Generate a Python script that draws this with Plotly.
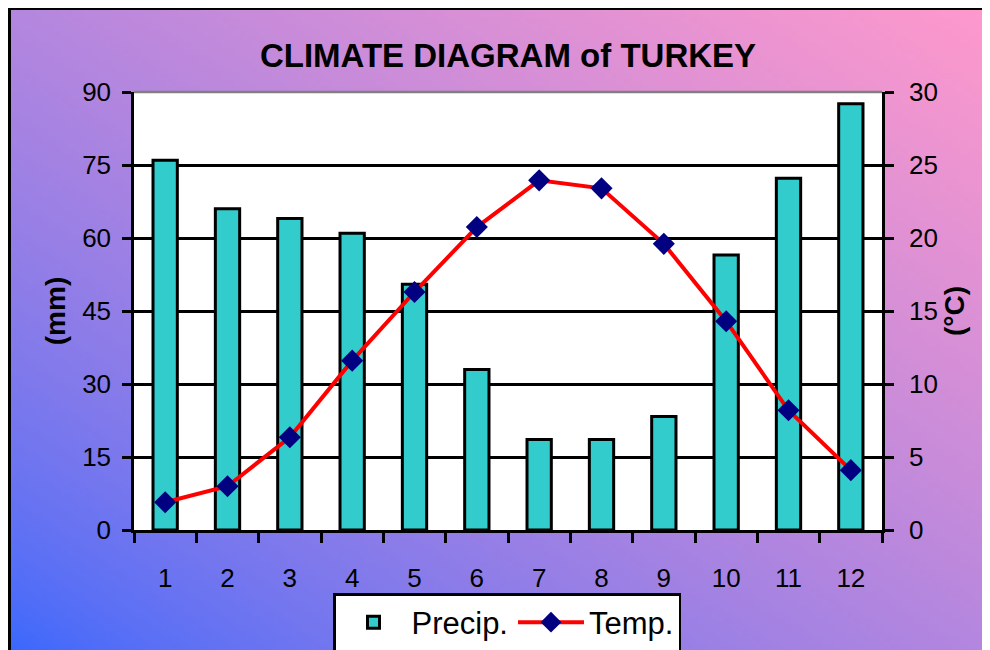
import base64
import struct
import zlib
import plotly.graph_objects as go

# ---- data ----
months = ["1", "2", "3", "4", "5", "6", "7", "8", "9", "10", "11", "12"]
precip_mm = [76, 66, 64, 61, 50.5, 33, 18.6, 18.6, 23.3, 56.5, 72.3, 87.6]
temp_c = [1.9, 3.0, 6.35, 11.6, 16.3, 20.75, 23.95, 23.4, 19.6, 14.3, 8.2, 4.1]
left_ticks = [0, 15, 30, 45, 60, 75, 90]
right_ticks = [0, 5, 10, 15, 20, 25, 30]

FONT = "Arial, Liberation Sans, sans-serif"
W, H = 990, 650
OFF = 8  # page body margin: figure origin sits at (8, 8) in the window
L, R, T, B = 134 - OFF, 882 - OFF, 92 - OFF, 530 - OFF   # plot area (figure px)
PW, PH = R - L, B - T


def px_x(p):
    """window x pixel -> paper x"""
    return (p - OFF - L) / PW


def px_y(p):
    """window y pixel -> paper y"""
    return (B - (p - OFF)) / PH


def gradient_png(w, h, c0, c1, gamma):
    rows = []
    for j in range(h):
        row = bytearray([0])
        for i in range(w):
            s = (i / (w - 1) + (1 - j / (h - 1))) / 2
            t = s ** gamma
            for k in range(3):
                row.append(int(round(c0[k] + (c1[k] - c0[k]) * t)))
        rows.append(bytes(row))
    raw = b"".join(rows)

    def chunk(tag, data):
        return (struct.pack(">I", len(data)) + tag + data
                + struct.pack(">I", zlib.crc32(tag + data) & 0xffffffff))

    png = (b"\x89PNG\r\n\x1a\n"
           + chunk(b"IHDR", struct.pack(">IIBBBBB", w, h, 8, 2, 0, 0, 0))
           + chunk(b"IDAT", zlib.compress(raw))
           + chunk(b"IEND", b""))
    return "data:image/png;base64," + base64.b64encode(png).decode()


bg = gradient_png(160, 105, (51, 102, 255), (255, 153, 204), 0.66)

fig = go.Figure()
fig.add_trace(go.Bar(
    x=months, y=precip_mm, name="Precip.", width=0.39,
    marker=dict(color="#33CCCC", line=dict(color="black", width=3)),
    yaxis="y",
))
fig.add_trace(go.Scatter(
    x=months, y=temp_c, name="Temp.", mode="lines+markers",
    line=dict(color="#FF0000", width=4),
    marker=dict(symbol="diamond", size=17, color="#000080"),
    yaxis="y2",
))

fig.update_layout(
    width=W, height=H,
    margin=dict(l=L, r=W - R, t=T, b=H - B, autoexpand=False),
    paper_bgcolor="white",
    plot_bgcolor="white",
    font=dict(family=FONT, color="black", size=26),
    title=dict(text="<b>CLIMATE DIAGRAM of TURKEY</b>", x=(508 - OFF) / W,
               xanchor="center", y=1 - (55 - OFF) / H, yanchor="middle",
               yref="container", automargin=False,
               font=dict(size=33, family=FONT, color="black")),
    xaxis=dict(type="category", range=[-0.5, len(months) - 0.5],
               tickson="boundaries", ticks="outside", ticklen=10,
               tickwidth=2.5, tickcolor="black", showline=True, linecolor="black",
               linewidth=3, showgrid=False, ticklabelstandoff=23, automargin=False,
               tickfont=dict(size=26)),
    xaxis2=dict(type="category", overlaying="x", side="bottom", matches="x",
                tickson="boundaries", ticks="inside", ticklen=8, tickwidth=2.5,
                tickcolor="black", showticklabels=False, showgrid=False,
                showline=False, automargin=False),
    yaxis=dict(range=[0, 90], tickvals=left_ticks, ticks="outside", ticklen=9,
               tickwidth=2.5, tickcolor="black", showline=True, linecolor="black",
               linewidth=2.5, showgrid=True, gridcolor="black", gridwidth=2.5,
               zeroline=False, ticklabelstandoff=6, automargin=False,
               title=dict(text="<b>(mm)</b>", standoff=9, font=dict(size=28))),
    yaxis2=dict(range=[0, 30], tickvals=right_ticks, overlaying="y", side="right",
                ticks="outside", ticklen=9, tickwidth=2.5, tickcolor="black",
                showline=True, linecolor="black", linewidth=2.5, showgrid=False,
                zeroline=False, ticklabelstandoff=10, automargin=False,
                title=dict(text="<b>(°C)</b>", standoff=8, font=dict(size=28))),
    showlegend=True,
    legend=dict(orientation="h", x=px_x(507), xanchor="center",
                y=1 - (593 - OFF) / H, yref="container",
                yanchor="top", bgcolor="white", bordercolor="black", borderwidth=2.5,
                font=dict(size=31), itemwidth=66, traceorder="normal"),
    images=[dict(source=bg, xref="paper", yref="paper", x=px_x(OFF), y=px_y(OFF),
                 sizex=W / PW, sizey=H / PH,
                 xanchor="left", yanchor="top", sizing="stretch", layer="below")],
    shapes=[
        dict(type="rect", xref="paper", yref="paper", x0=px_x(OFF + 1.5),
             y0=px_y(H + OFF + 20), x1=px_x(W + OFF + 20), y1=px_y(OFF + 0.5),
             line=dict(color="black", width=3),
             fillcolor="rgba(0,0,0,0)", layer="below"),
        dict(type="rect", xref="paper", yref="paper", x0=0, y0=0, x1=1, y1=1,
             line=dict(width=0), fillcolor="white", layer="below"),
        dict(type="line", xref="paper", yref="paper", x0=0, y0=1, x1=1, y1=1,
             line=dict(color="#808080", width=2.5)),
    ],
)

fig.write_html("out.html")
